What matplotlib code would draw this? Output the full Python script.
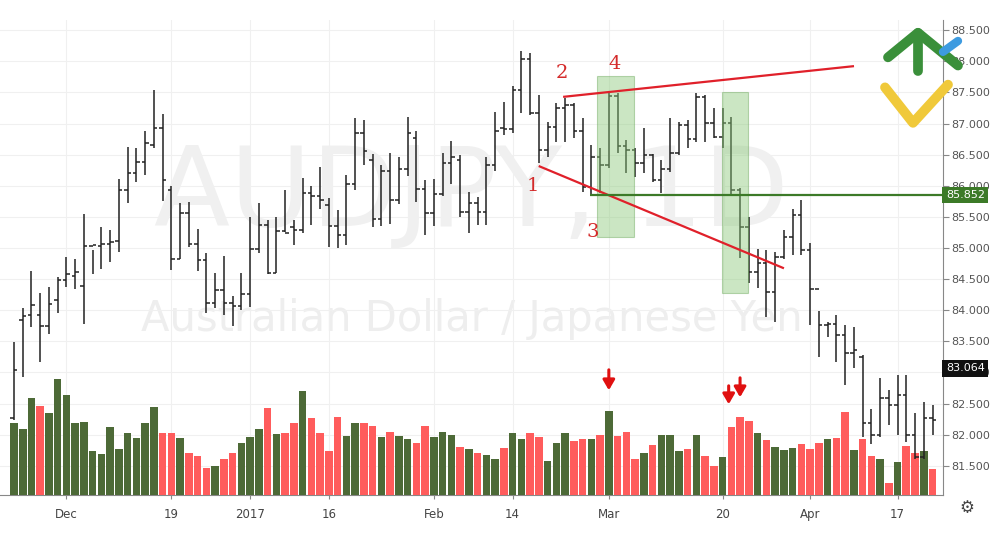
import numpy as np
import pandas as pd
import matplotlib
matplotlib.use("Agg")
import matplotlib.pyplot as plt
from matplotlib.patches import Rectangle

# ---------------- data ----------------
dates = [d for d in pd.bdate_range("2016-11-23", "2017-04-21")
         if d not in (pd.Timestamp("2016-12-26"), pd.Timestamp("2017-01-02"))]

opens = [82.27,83.85,83.92,83.92,83.75,84.17,84.49,84.55,84.39,85.03,
         85.03,85.06,85.11,85.93,86.20,86.38,86.65,86.93,85.93,84.82,
         85.56,85.06,84.81,84.12,84.33,84.12,84.07,84.26,84.98,85.37,
         84.60,85.27,85.34,85.29,85.88,85.83,85.69,85.35,85.21,86.03,
         86.85,86.41,85.46,86.24,85.77,86.27,86.77,85.94,85.56,85.86,
         86.36,86.41,85.58,85.72,85.58,86.33,86.93,86.91,87.54,88.04,
         87.17,86.57,86.94,87.25,87.30,86.88,85.98,86.46,86.33,87.44,
         86.64,86.57,86.36,86.49,86.09,86.27,86.52,86.97,86.75,87.42,
         87.01,86.78,87.01,85.93,85.34,84.61,84.76,84.29,84.86,85.17,
         85.53,84.97,84.34,83.76,83.78,83.60,83.31,83.24,82.19,82.00,
         82.59,82.48,82.64,82.00,81.64,82.27]
highs = [83.49,84.04,84.63,84.28,84.37,84.53,84.86,84.82,85.54,84.97,
         85.34,85.29,86.11,86.62,86.61,86.88,87.54,87.15,85.99,85.72,
         85.74,85.30,84.92,84.60,84.87,84.23,84.60,85.50,85.72,85.45,
         85.50,85.93,85.45,86.12,85.99,86.30,85.80,85.61,86.17,87.09,
         87.05,86.51,86.33,86.52,86.46,87.10,86.88,86.09,86.11,86.52,
         86.72,86.49,85.90,85.82,86.46,87.18,87.34,87.60,88.17,88.13,
         87.46,87.02,87.33,87.41,87.33,87.09,86.65,86.61,87.49,87.49,
         86.73,86.61,86.93,86.51,86.41,87.09,87.02,87.05,87.49,87.46,
         87.25,87.25,87.10,85.96,85.50,84.98,84.97,84.93,85.29,85.62,
         85.77,85.08,83.99,83.81,83.92,83.76,83.73,83.28,82.42,82.91,
         82.72,82.96,82.96,82.34,82.53,82.48]
lows = [82.24,82.93,83.73,83.17,83.62,83.96,84.37,84.34,83.78,84.58,
        84.66,84.77,84.93,85.72,86.06,86.17,86.61,85.75,84.65,84.82,
        85.01,84.63,83.96,84.04,83.92,83.75,84.01,84.05,84.92,84.58,
        84.60,85.25,85.05,85.24,85.37,85.62,85.01,85.00,85.05,85.93,
        86.33,85.34,85.35,85.38,85.70,86.16,85.74,85.21,85.35,85.83,
        86.03,85.50,85.24,85.37,85.37,86.24,86.81,86.85,87.17,87.13,
        86.36,86.46,86.70,86.70,86.77,85.90,85.85,85.88,86.28,86.52,
        86.20,86.14,86.20,86.06,85.88,86.22,86.49,86.61,86.70,86.70,
        86.77,86.61,85.85,84.84,84.44,84.36,83.89,83.81,84.82,84.89,
        84.89,83.76,83.24,83.57,83.16,82.80,83.07,81.97,81.85,81.96,
        82.16,82.00,81.88,81.61,81.61,82.00]
closes = [83.04,83.91,84.09,83.75,84.10,84.49,84.58,84.61,85.03,85.05,
          85.06,85.10,85.93,86.20,86.38,86.69,86.93,86.09,84.82,85.56,
          85.06,84.81,84.12,84.33,84.12,84.07,84.26,84.98,85.37,84.60,
          85.27,85.24,85.29,85.88,85.83,85.77,85.35,85.21,86.03,86.85,
          86.56,85.46,86.24,85.77,86.27,86.85,85.94,85.56,85.86,86.36,
          86.46,85.58,85.72,85.58,86.33,86.88,86.91,87.54,88.04,87.17,
          86.57,86.94,87.25,87.30,86.88,85.98,86.46,86.33,87.44,86.64,
          86.57,86.36,86.49,86.09,86.27,86.52,86.97,86.75,87.42,87.01,
          86.78,87.01,85.93,85.34,84.61,84.76,84.29,84.86,85.17,85.53,
          84.97,84.34,83.76,83.78,83.60,83.31,83.36,82.19,82.00,82.59,
          82.48,82.64,82.00,81.64,82.27,82.24]
volumes = [72,66,97,89,82,116,100,72,73,44, 41,68,46,62,57,72,88,62,62,57,
           42,39,27,29,36,42,52,58,66,87, 61,62,72,104,77,62,44,78,59,72,
           72,69,58,63,59,56,52,69,58,63, 60,48,46,42,40,36,47,62,56,62,
           58,34,52,62,54,56,56,60,84,59, 63,36,42,50,60,60,44,46,60,39,
           29,38,68,78,74,62,55,48,45,47, 51,46,52,56,57,83,45,56,39,36,
           12,33,49,42,44,26]

tick_dates = ["2016-12-01","2016-12-19","2017-01-03","2017-01-16","2017-02-01",
              "2017-02-14","2017-03-01","2017-03-20","2017-04-03","2017-04-17"]
tick_labels = ["Dec","19","2017","16","Feb","14","Mar","20","Apr","17"]
price_ticks = [81.5,82.0,82.5,83.0,83.5,84.0,84.5,85.0,85.5,86.0,86.5,87.0,87.5,88.0,88.5]
support_level = 85.852
last_label = 83.064

# annotations (x in bar index, y in price)
upper_line = ([62.9, 95.9], [87.43, 87.92])
lower_line = ([60.1, 87.9], [86.31, 84.68])
boxes = [(66.7, 70.9, 85.17, 87.76), (80.9, 83.9, 84.28, 87.50)]
numbers = [("1", 59.3, 86.0), ("2", 62.6, 87.81), ("3", 66.2, 85.25), ("4", 68.7, 87.95)]
arrows = [(68.0, 128, 102), (81.7, 112, 88), (83.0, 120, 95)]   # x, vol from, vol to

# ---------------- plot ----------------
n = len(dates)
x = np.arange(n)
YLO, YHI = 81.03, 88.66
fig = plt.figure(figsize=(10, 5.46), dpi=100)
ax = fig.add_axes([0.0, 0.0934, 0.943, 0.8696])
ax.set_xlim(-1.6, 106.2)
ax.set_ylim(YLO, YHI)

# watermark
ax.text(0.5, 0.63, "AUDJPY, 1D", transform=ax.transAxes, ha="center", va="center",
        fontsize=80, color="#f0f0f0", zorder=0)
ax.text(0.5, 0.37, "Australian Dollar / Japanese Yen", transform=ax.transAxes,
        ha="center", va="center", fontsize=30, color="#eeeeee", zorder=0)

# volume
vax = ax.twinx()
vax.set_ylim(0, 475)
vcol = ["#4d6a37" if c >= o else "#ff5c5c" for o, c in zip(opens, closes)]
vax.bar(x, volumes, width=0.86, color=vcol, zorder=1)
for ax_x, v0, v1 in arrows:
    vax.annotate("", xy=(ax_x, v1), xytext=(ax_x, v0),
                 arrowprops=dict(arrowstyle="-|>,head_width=0.35,head_length=0.6",
                                 color="#e01010", lw=2.2))

# OHLC bars on top
pax = ax.twinx()
pax.set_ylim(YLO, YHI)
pax.vlines(x, lows, highs, color="#222", lw=1.1, zorder=3)
pax.hlines(opens, x - 0.4, x, color="#222", lw=1.1, zorder=3)
pax.hlines(closes, x, x + 0.4, color="#222", lw=1.1, zorder=3)

for x0, x1, y0, y1 in boxes:
    pax.add_patch(Rectangle((x0, y0), x1 - x0, y1 - y0, facecolor="#8cc97a",
                            alpha=0.45, edgecolor="#6aa85a", lw=0.8, zorder=4))
pax.plot(*upper_line, color="#e0202a", lw=1.6, zorder=5)
pax.plot(*lower_line, color="#e0202a", lw=1.6, zorder=5)
pax.hlines(support_level, 65.8, 106.2, color="#3c7a28", lw=1.6, zorder=5)
for t, tx, ty in numbers:
    pax.text(tx, ty, t, color="#d42a2a", fontsize=14, family="DejaVu Serif",
             ha="center", va="center", zorder=6)

for a in (vax, pax):
    a.set_yticks([])
    a.set_xlim(-1.6, 106.2)
    for s in a.spines.values():
        s.set_visible(False)

# axes cosmetics (after twins)
date_index = {d: i for i, d in enumerate(dates)}
tpos = [date_index[pd.Timestamp(t)] for t in tick_dates]
ax.set_xticks(tpos)
ax.set_xticklabels(tick_labels, fontsize=8.5, color="#444")
ax.yaxis.set_label_position("right")
ax.yaxis.tick_right()
ax.set_yticks(price_ticks)
ax.set_yticklabels([f"{p:.3f}" for p in price_ticks], fontsize=8, color="#555")
ax.tick_params(axis="y", which="both", left=False, labelleft=False, right=True,
               labelright=True, length=4, color="#888", pad=2)
ax.tick_params(axis="x", length=3, color="#888", pad=6)
ax.grid(True, color="#f0f0f0", lw=0.8)
for s in ["top", "left"]:
    ax.spines[s].set_visible(False)
ax.spines["right"].set_color("#888")
ax.spines["bottom"].set_color("#888")
ax.set_axisbelow(True)

# price labels on axis
ax.text(1.003, (support_level - YLO) / (YHI - YLO), f"{support_level:.3f}",
        transform=ax.transAxes, fontsize=8, color="white", va="center", ha="left",
        bbox=dict(boxstyle="square,pad=0.3", fc="#3c7a28", ec="none"), zorder=10)
ax.text(1.003, (last_label - YLO) / (YHI - YLO), f"{last_label:.3f}",
        transform=ax.transAxes, fontsize=8, color="white", va="center", ha="left",
        bbox=dict(boxstyle="square,pad=0.3", fc="#111", ec="none"), zorder=10)

# logo (decorative)
fig.lines.append(plt.Line2D([0.885, 0.913, 0.948], [0.84, 0.775, 0.845],
                 transform=fig.transFigure, color="#f0c93a", lw=7, solid_capstyle="round"))
fig.lines.append(plt.Line2D([0.888, 0.918, 0.958], [0.895, 0.94, 0.88],
                 transform=fig.transFigure, color="#3a8f3a", lw=7, solid_capstyle="round"))
fig.lines.append(plt.Line2D([0.918, 0.918], [0.94, 0.87],
                 transform=fig.transFigure, color="#3a8f3a", lw=7, solid_capstyle="round"))
fig.lines.append(plt.Line2D([0.943, 0.958], [0.905, 0.925],
                 transform=fig.transFigure, color="#3d9be0", lw=6, solid_capstyle="round"))
fig.text(0.967, 0.07, "\u2699", fontsize=12, color="#444", ha="center", va="center")

fig.savefig("out.png", dpi=100)
